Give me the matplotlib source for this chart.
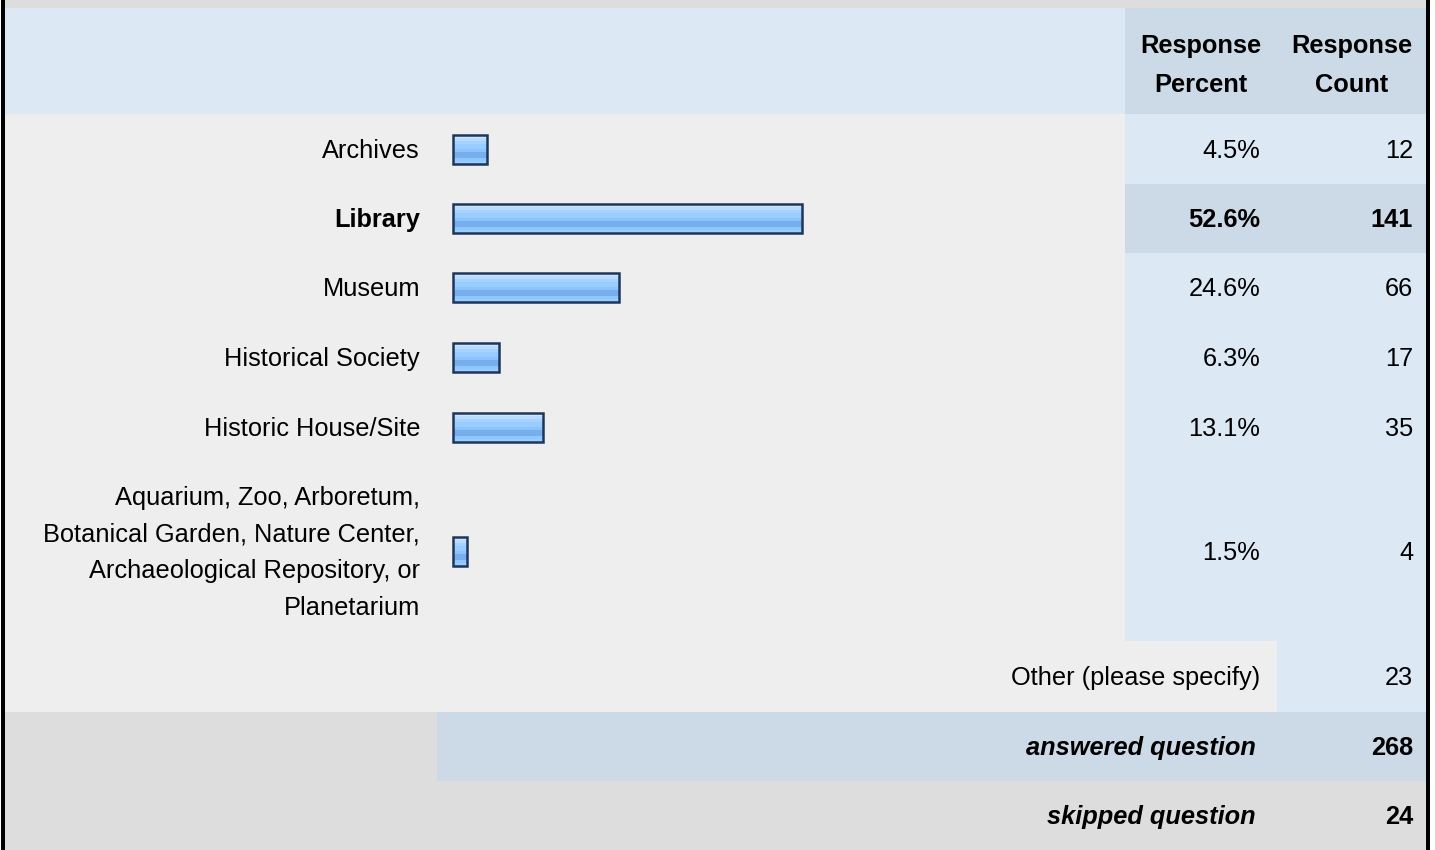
import numpy as np
import matplotlib.pyplot as plt
from matplotlib.colors import ListedColormap
from matplotlib.patches import Rectangle

# survey data
categories = ["Archives", "Library", "Museum", "Historical Society", "Historic House/Site",
              "Aquarium, Zoo, Arboretum,\nBotanical Garden, Nature Center,\nArchaeological Repository, or\nPlanetarium"]
percents = [4.5, 52.6, 24.6, 6.3, 13.1, 1.5]
counts = [12, 141, 66, 17, 35, 4]
highlight = "Library"
other_label = "Other (please specify)"
other_count = 23
answered = 268
skipped = 24

plt.rcParams['font.family'] = ['Liberation Sans', 'DejaVu Sans']
FS = 18.3
DY = 1.5  # small nudge so text sits like the html render

fig = plt.figure(figsize=(14.35, 8.5), dpi=100)
ax = fig.add_axes([0, 0, 1, 1])
ax.set_xlim(0, 1435)
ax.set_ylim(850, 0)
ax.axis('off')

GRAY = '#DDDDDD'
LIGHT = '#EEEEEE'
BLUE = '#DDE8F5'
BLUE2 = '#CCD9E6'


def box(x0, x1, y0, y1, color):
    ax.add_patch(Rectangle((x0, y0), x1 - x0, y1 - y0, facecolor=color, edgecolor='none', zorder=0))


# table layout
edges = [114, 184, 253, 322, 392, 462, 641]
box(5, 1426, 0, 8, GRAY)
box(5, 1125, 8, 114, BLUE)
box(1125, 1426, 8, 114, BLUE2)
box(5, 1125, 114, 641, LIGHT)
box(1125, 1426, 114, 641, BLUE)
box(5, 1277, 641, 712, LIGHT)
box(1277, 1426, 641, 712, BLUE)
box(5, 437, 712, 781, GRAY)
box(437, 1426, 712, 781, BLUE2)
box(5, 1426, 781, 850, GRAY)
box(1, 4.5, 0, 850, 'black')
box(1426, 1429.5, 0, 850, 'black')

ax.text(1201, 64 + DY, "Response\nPercent", ha='center', va='center', fontsize=FS,
        fontweight='bold', linespacing=1.75)
ax.text(1352, 64 + DY, "Response\nCount", ha='center', va='center', fontsize=FS,
        fontweight='bold', linespacing=1.75)

# bars
centers = [(a + b) / 2 for a, b in zip(edges[:-1], edges[1:])]
widths = [4.5 + 6.55 * p for p in percents]
grad = ListedColormap(['#CFE6FF', '#B9DBFF', '#A6D2FF', '#99CCFF', '#99CCFF',
                       '#8CC3F8', '#76AEEE', '#76AEEE', '#8EC6FF', '#99CCFF'])
bars = ax.barh(centers, widths, left=453, height=29, facecolor='none',
               edgecolor='#1E3659', linewidth=1.8, zorder=3)
for b in bars:
    x0, y0 = b.get_x(), b.get_y()
    w, h = b.get_width(), b.get_height()
    im = ax.imshow(np.arange(10).reshape(-1, 1), cmap=grad, aspect='auto',
                   extent=(x0, x0 + w, y0 + h, y0), interpolation='nearest', zorder=2)
    im.set_clip_path(b)

for cat, y, p, c in zip(categories, centers, percents, counts):
    wt = 'bold' if cat == highlight else 'normal'
    ax.text(420, y + DY, cat, ha='right', va='center', fontsize=FS, fontweight=wt, linespacing=1.68)
    ax.text(1260, y + DY, f"{p:.1f}%", ha='right', va='center', fontsize=FS, fontweight=wt)
    ax.text(1413, y + DY, str(c), ha='right', va='center', fontsize=FS, fontweight=wt)
    if cat == highlight:
        box(1125, 1426, y - 34.5, y + 34.5, BLUE2)

ax.text(1260, 676.5 + DY, other_label, ha='right', va='center', fontsize=FS)
ax.text(1413, 676.5 + DY, str(other_count), ha='right', va='center', fontsize=FS)
ax.text(1256, 746.5 + DY, "answered question", ha='right', va='center', fontsize=FS,
        fontweight='bold', fontstyle='italic')
ax.text(1413, 746.5 + DY, str(answered), ha='right', va='center', fontsize=FS, fontweight='bold')
ax.text(1256, 815.5 + DY, "skipped question", ha='right', va='center', fontsize=FS,
        fontweight='bold', fontstyle='italic')
ax.text(1413, 815.5 + DY, str(skipped), ha='right', va='center', fontsize=FS, fontweight='bold')

fig.savefig('out.png', dpi=100)
